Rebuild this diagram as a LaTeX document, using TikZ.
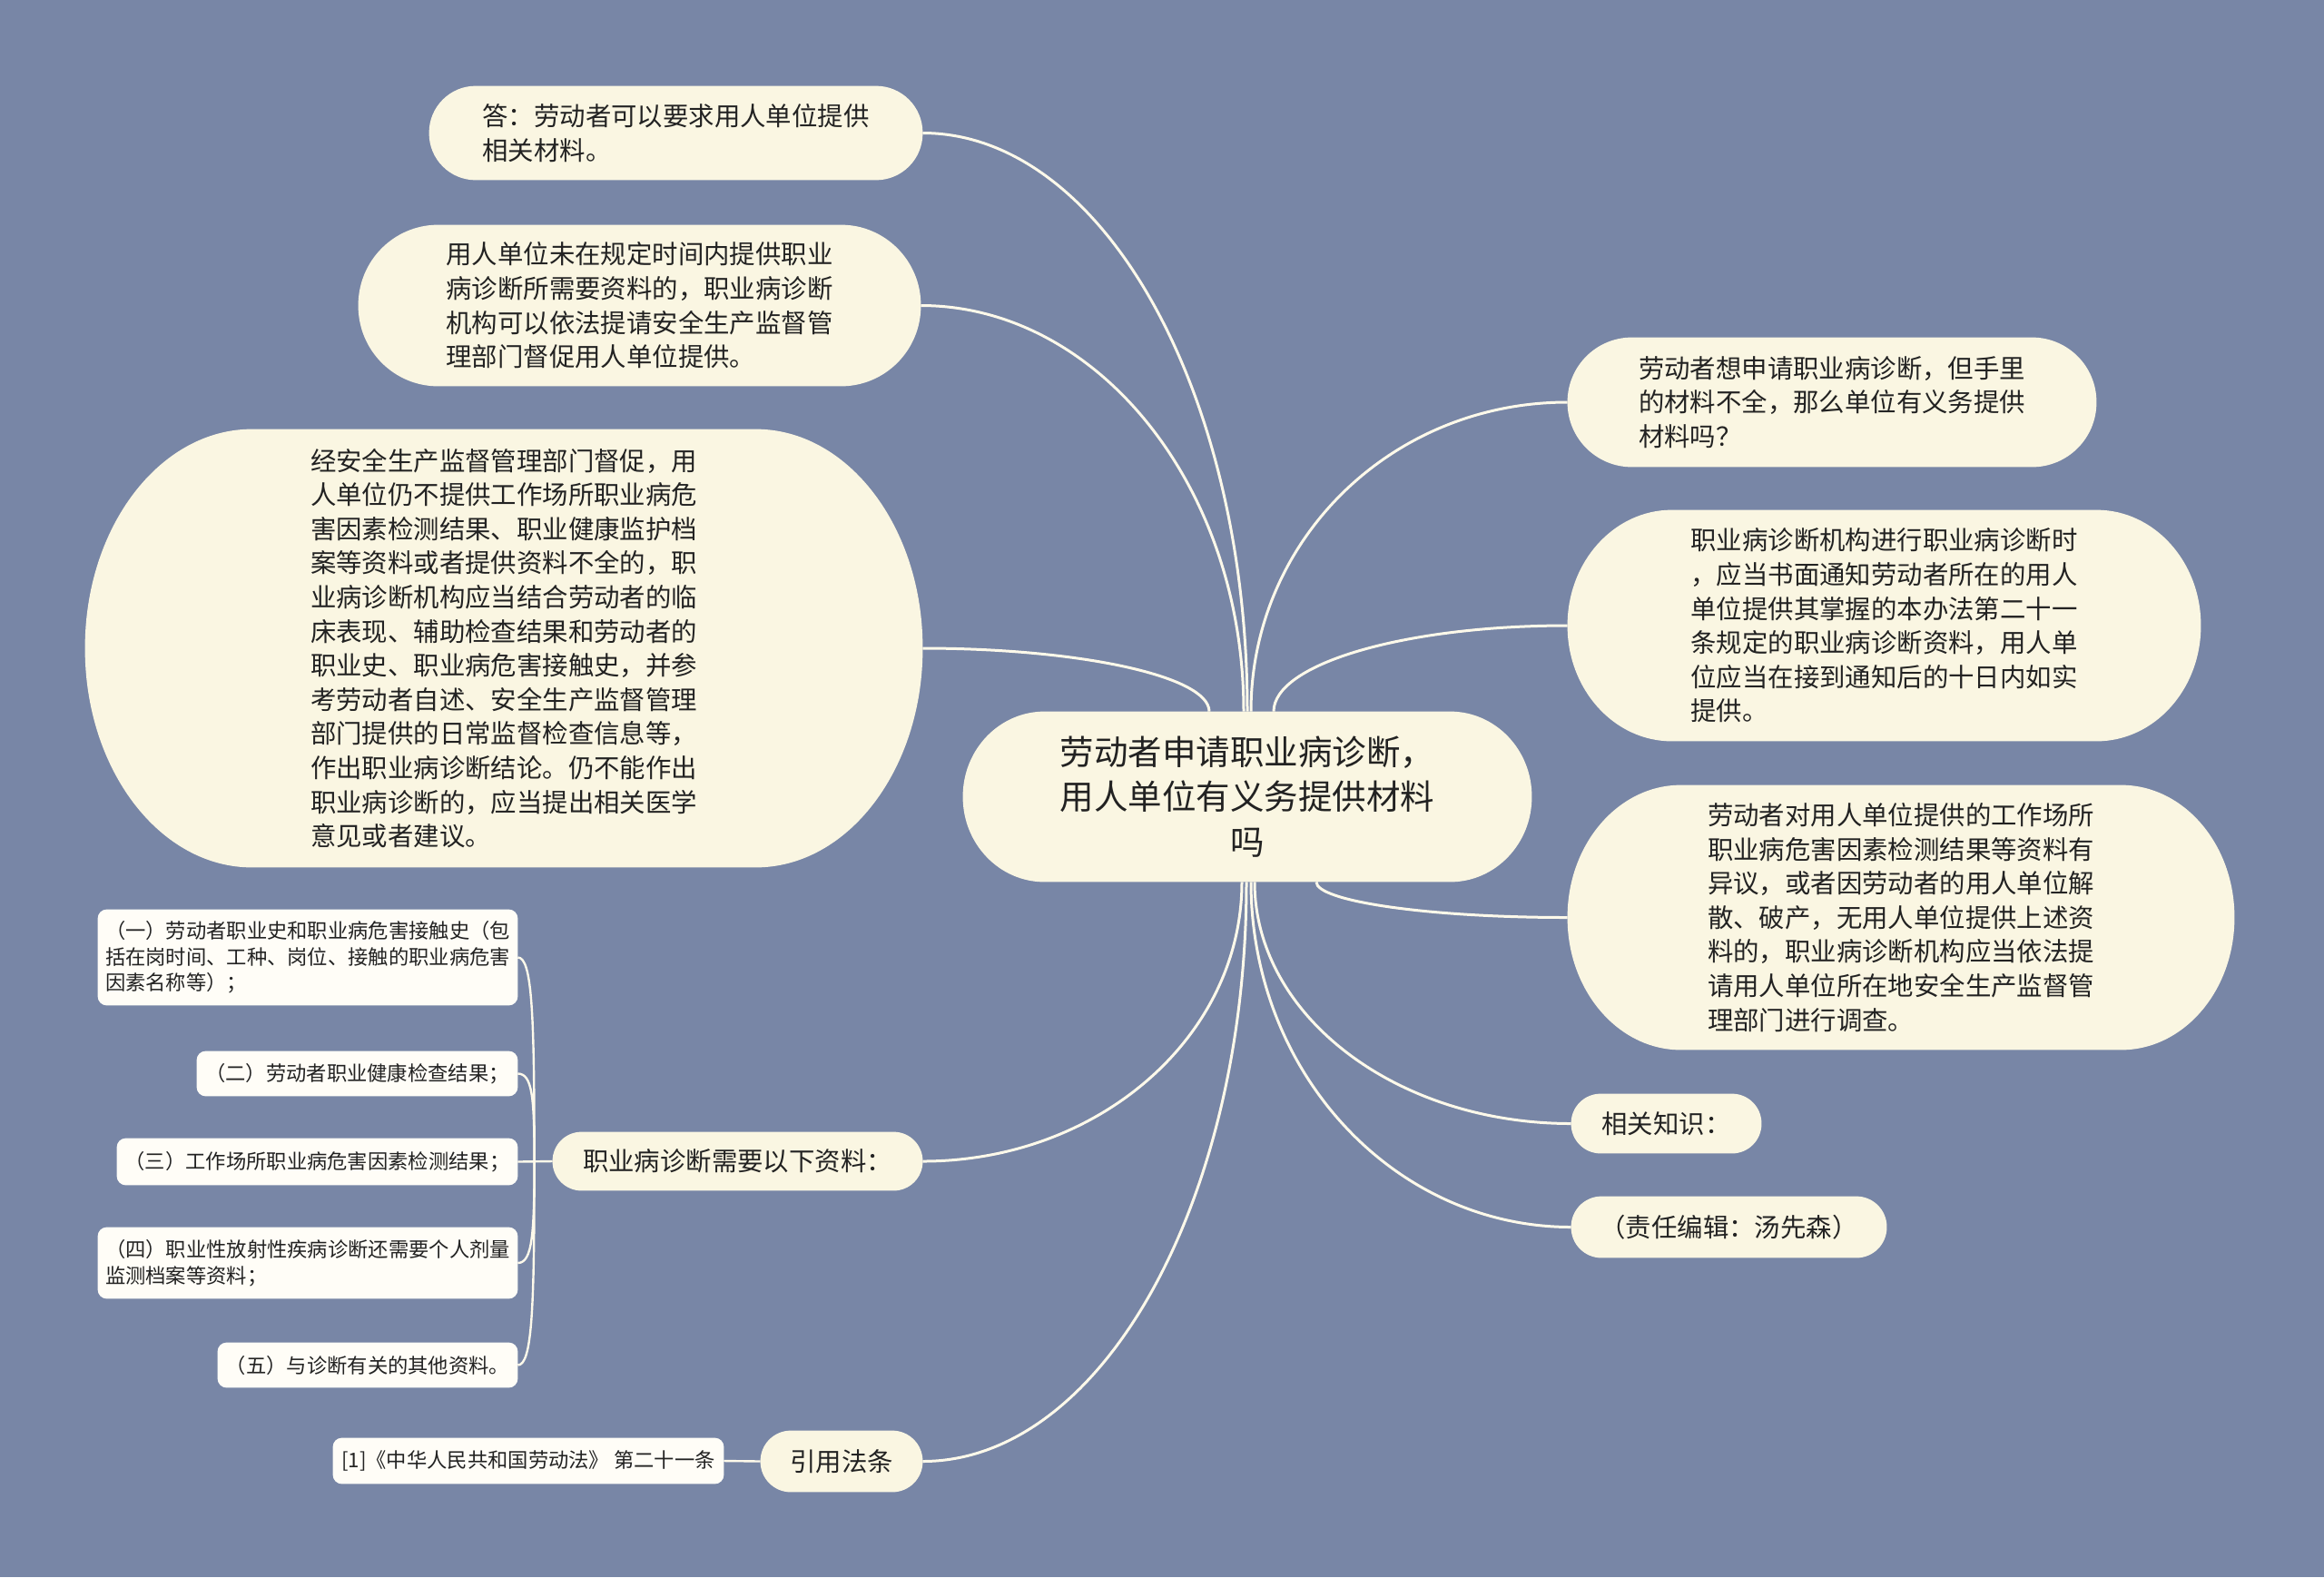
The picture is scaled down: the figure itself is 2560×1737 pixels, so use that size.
\documentclass[tikz,border=0pt]{standalone}
\usepackage{fontspec}
\newfontfamily\cjk{Noto Sans CJK SC}
\pgfdeclarelayer{paper}
\pgfdeclarelayer{edges}
\pgfdeclarelayer{bg}
\pgfsetlayers{paper,edges,bg,main}
\definecolor{paperc}{RGB}{120,134,166}
\definecolor{boxc}{RGB}{250,246,226}
\definecolor{leafc}{RGB}{255,253,247}
\definecolor{linec}{RGB}{253,249,234}
\definecolor{textc}{RGB}{34,34,34}
\newcommand\boxbg[4]{%
  \fill[#4] ([xshift=#2]#1.north west) -- ([xshift=-#2]#1.north east)
    arc[start angle=90,end angle=0,x radius=#2,y radius=#3]
    -- ([yshift=#3]#1.south east)
    arc[start angle=0,end angle=-90,x radius=#2,y radius=#3]
    -- ([xshift=#2]#1.south west)
    arc[start angle=270,end angle=180,x radius=#2,y radius=#3]
    -- ([yshift=-#3]#1.north west)
    arc[start angle=180,end angle=90,x radius=#2,y radius=#3] -- cycle;}
\tikzset{
  every node/.style={inner sep=0pt, text=textc},
  midtxt/.style={font=\cjk\fontsize{14.2pt}{18.8pt}\selectfont, align=left},
  ctrtxt/.style={font=\cjk\fontsize{18.75pt}{24.9pt}\selectfont, align=center},
  leaftxt/.style={font=\cjk\fontsize{11.15pt}{14.3pt}\selectfont, align=left},
  conn/.style={draw=linec, line width=1.5pt},
  lconn/.style={draw=linec, line width=1.2pt},
}
\begin{document}
\begin{tikzpicture}[x=0.5pt,y=-0.5pt]
\useasboundingbox (0,0) rectangle (2560,1737);
\begin{pgfonlayer}{paper}
\fill[paperc] (0,0) rectangle (2560,1737);
\end{pgfonlayer}

% centre
\node[ctrtxt, minimum width=313pt, minimum height=93.5pt] (c) at (1374,877.5)
  {劳动者申请职业病诊断，\\用人单位有义务提供材料\\吗};

% left upper
\node[midtxt, minimum width=271.5pt, minimum height=51.5pt] (n1) at (744.5,146.5)
  {答：劳动者可以要求用人单位提供\\相关材料。};
\node[midtxt, minimum width=309.5pt, minimum height=88.5pt] (n2) at (704.5,336.5)
  {用人单位未在规定时间内提供职业\\病诊断所需要资料的，职业病诊断\\机构可以依法提请安全生产监督管\\理部门督促用人单位提供。};
\node[midtxt, minimum width=461pt, minimum height=241pt] (n3) at (555,714)
  {经安全生产监督管理部门督促，用\\人单位仍不提供工作场所职业病危\\害因素检测结果、职业健康监护档\\案等资料或者提供资料不全的，职\\业病诊断机构应当结合劳动者的临\\床表现、辅助检查结果和劳动者的\\职业史、职业病危害接触史，并参\\考劳动者自述、安全生产监督管理\\部门提供的日常监督检查信息等，\\作出职业病诊断结论。仍不能作出\\职业病诊断的，应当提出相关医学\\意见或者建议。};

% right
\node[midtxt, minimum width=291pt, minimum height=71pt] (r1) at (2018,443)
  {劳动者想申请职业病诊断，但手里\\的材料不全，那么单位有义务提供\\材料吗？};
\node[midtxt, minimum width=348.5pt, minimum height=127pt] (r2) at (2075.5,689)
  {职业病诊断机构进行职业病诊断时\\，应当书面通知劳动者所在的用人\\单位提供其掌握的本办法第二十一\\条规定的职业病诊断资料，用人单\\位应当在接到通知后的十日内如实\\提供。};
\node[midtxt, minimum width=367pt, minimum height=145.5pt] (r3) at (2094,1010.5)
  {劳动者对用人单位提供的工作场所\\职业病危害因素检测结果等资料有\\异议，或者因劳动者的用人单位解\\散、破产，无用人单位提供上述资\\料的，职业病诊断机构应当依法提\\请用人单位所在地安全生产监督管\\理部门进行调查。};
\node[midtxt, minimum width=104.5pt, minimum height=32.5pt] (r4) at (1835.5,1237.5)
  {相关知识：};
\node[midtxt, minimum width=173.5pt, minimum height=33.5pt] (r5) at (1904.5,1351.5)
  {（责任编辑：汤先森）};

% left lower
\node[midtxt, minimum width=203.5pt, minimum height=32pt] (l4) at (812.5,1279)
  {职业病诊断需要以下资料：};
\node[midtxt, minimum width=89pt, minimum height=33.5pt] (l5) at (927,1609.5)
  {引用法条};

% leaves
\node[leaftxt, minimum width=231pt, minimum height=52.5pt] (a1) at (339,1054.5)
  {（一）劳动者职业史和职业病危害接触史（包\\括在岗时间、工种、岗位、接触的职业病危害\\因素名称等）；};
\node[leaftxt, minimum width=176.5pt, minimum height=24.5pt] (a2) at (393.5,1182.5)
  {（二）劳动者职业健康检查结果；};
\node[leaftxt, minimum width=220.5pt, minimum height=25.5pt] (a3) at (349.5,1279.5)
  {（三）工作场所职业病危害因素检测结果；};
\node[leaftxt, minimum width=231pt, minimum height=39pt] (a4) at (339,1391)
  {（四）职业性放射性疾病诊断还需要个人剂量\\监测档案等资料；};
\node[leaftxt, minimum width=165pt, minimum height=24.5pt] (a5) at (405,1503.5)
  {（五）与诊断有关的其他资料。};
\node[leaftxt, minimum width=215pt, minimum height=25pt] (b1) at (582,1609)
  {[1]《中华人民共和国劳动法》 第二十一条};

\coordinate (j) at ([xshift=-10pt]l4.west);

\begin{pgfonlayer}{bg}
\boxbg{c}{45pt}{46.75pt}{boxc}
\boxbg{n1}{25.75pt}{25.75pt}{boxc}
\boxbg{n2}{44pt}{44.25pt}{boxc}
\boxbg{n3}{92pt}{120.5pt}{boxc}
\boxbg{r1}{35.5pt}{35.5pt}{boxc}
\boxbg{r2}{57.5pt}{63.5pt}{boxc}
\boxbg{r3}{62.5pt}{72.75pt}{boxc}
\boxbg{r4}{16.25pt}{16.25pt}{boxc}
\boxbg{r5}{16.75pt}{16.75pt}{boxc}
\boxbg{l4}{16pt}{16pt}{boxc}
\boxbg{l5}{16.75pt}{16.75pt}{boxc}
\boxbg{a1}{5pt}{5pt}{leafc}
\boxbg{a2}{5pt}{5pt}{leafc}
\boxbg{a3}{5pt}{5pt}{leafc}
\boxbg{a4}{5pt}{5pt}{leafc}
\boxbg{a5}{5pt}{5pt}{leafc}
\boxbg{b1}{5pt}{5pt}{leafc}
\end{pgfonlayer}

\begin{pgfonlayer}{edges}
\draw[conn] (c.north) .. controls +(0,-352) and +(198,0) .. (n1.east);
\draw[conn] ([xshift=-2pt]c.north) .. controls +(0,-247) and +(195,0) .. (n2.east);
\draw[conn] ([xshift=-21pt]c.north) .. controls +(0,-39) and +(172,0) .. (n3.east);
\draw[conn] ([xshift=2pt]c.north) .. controls +(0,-188) and +(-195,0) .. (r1.west);
\draw[conn] ([xshift=14.5pt]c.north) .. controls +(0,-52) and +(-181,0) .. (r2.west);
\draw[conn] ([xshift=38pt]c.south) .. controls +(0,21) and +(-155,0) .. (r3.west);
\draw[conn] ([xshift=4pt]c.south) .. controls +(0,147) and +(-193,0) .. (r4.west);
\draw[conn] ([xshift=2pt]c.south) .. controls +(0,210) and +(-195,0) .. (r5.west);
\draw[conn] ([xshift=-3pt]c.south) .. controls +(0,170) and +(194,0) .. (l4.east);
\draw[conn] ([xshift=-0.5pt]c.south) .. controls +(0,352) and +(197,0) .. (l5.east);
\draw[lconn] (l4.west) -- (a3.east);
\draw[lconn] (j) .. controls +(0,-160) and +(16,0) .. (a1.east);
\draw[lconn] (j) .. controls +(0,-70) and +(16,0) .. (a2.east);
\draw[lconn] (j) .. controls +(0,80) and +(16,0) .. (a4.east);
\draw[lconn] (j) .. controls +(0,160) and +(16,0) .. (a5.east);
\draw[lconn] (l5.west) -- (b1.east);
\end{pgfonlayer}
\end{tikzpicture}
\end{document}
